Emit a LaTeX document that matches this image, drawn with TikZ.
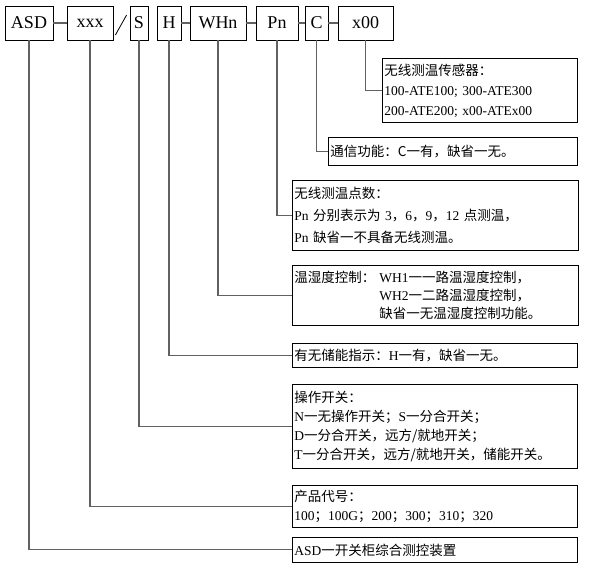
\documentclass[tikz,border=0pt]{standalone}
\usepackage{fontspec}
\setmainfont{Liberation Serif}
\newfontfamily\cjk{Noto Sans CJK SC}
\newcommand\zh[1]{{\cjk #1}}
\usetikzlibrary{calc}
\tikzset{
  code/.style={draw, line width=0.8pt, minimum height=34pt, inner sep=0pt,
    font=\fontsize{18}{18}\selectfont},
  note/.style={draw, line width=0.8pt, anchor=north west, inner xsep=2pt,
    inner ysep=0pt, align=left},
  link/.style={draw=black!62, line width=1.1pt},
}
\begin{document}
\begin{tikzpicture}[x=1pt,y=-1pt]
  \useasboundingbox (0,0) rectangle (610,568);
  % 型号各段
  \node[code, minimum width=48pt] (asd) at (29,23) {ASD};
  \node[code, minimum width=46pt] (xxx) at (90,23) {xxx};
  \node[code, minimum width=18pt] (s)   at (139,23) {S};
  \node[code, minimum width=24pt] (h)   at (169,23) {H};
  \node[code, minimum width=56pt] (whn) at (218,23) {WHn};
  \node[code, minimum width=42pt] (pn)  at (277,23) {Pn};
  \node[code, minimum width=23pt] (c)   at (316.5,23) {C};
  \node[code, minimum width=55pt] (x00) at (365.5,23) {x00};
  \foreach \a/\b in {asd/xxx,h/whn,whn/pn,pn/c,c/x00}
    \draw[link] (\a) -- (\b);
  \draw[line width=0.8pt] ($(xxx.east)+(2,12)$) -- ($(s.west)+(-3,-8)$);  % 斜杠
  % 说明框
  \node[note, text width=191pt, minimum height=64pt, font=\fontsize{13.5}{20}\selectfont] (dx00) at (382,58)
    {\zh{无线测温传感器：}\\100-ATE100; 300-ATE300\\200-ATE200; x00-ATEx00};
  \node[note, text width=245pt, minimum height=28pt, font=\fontsize{13.5}{18}\selectfont] (dc) at (328,137)
    {\zh{通信功能：C一有，缺省一无。}};
  \node[note, text width=282pt, minimum height=70pt, font=\fontsize{13.5}{22}\selectfont] (dpn) at (292,180)
    {\zh{无线测温点数：}\\Pn \zh{分别表示为} 3\zh{，}6\zh{，}9\zh{，}12 \zh{点测温，}\\Pn \zh{缺省一不具备无线测温。}};
  \node[note, text width=282pt, minimum height=60pt, font=\fontsize{13.5}{18}\selectfont] (dwhn) at (292,265)
    {\zh{温湿度控制：}\hspace{4pt}WH1\zh{一一路温湿度控制，}\\
     \hphantom{\zh{温湿度控制：}}\hspace{4pt}WH2\zh{一二路温湿度控制，}\\
     \hphantom{\zh{温湿度控制：}}\hspace{4pt}\zh{缺省一无温湿度控制功能。}};
  \node[note, text width=281pt, minimum height=24pt, font=\fontsize{13.5}{18}\selectfont] (dh) at (292,343)
    {\zh{有无储能指示：}H\zh{一有，缺省一无。}};
  \node[note, text width=281pt, minimum height=84pt, font=\fontsize{13.5}{19}\selectfont] (ds) at (292,384)
    {\zh{操作开关：}\\N\zh{一无操作开关；}S\zh{一分合开关；}\\D\zh{一分合开关，远方/就地开关；}\\T\zh{一分合开关，远方/就地开关，储能开关。}};
  \node[note, text width=281pt, minimum height=42pt, font=\fontsize{13.5}{19}\selectfont] (dxxx) at (292,485)
    {\zh{产品代号：}\\100\zh{；}100G\zh{；}200\zh{；}300\zh{；}310\zh{；}320};
  \node[note, text width=281pt, minimum height=25pt, font=\fontsize{13.5}{18}\selectfont] (dasd) at (292,537)
    {ASD\zh{一开关柜综合测控装置}};
  % 引线
  \foreach \p in {x00,c,pn,whn,h,s,xxx,asd}
    \draw[link] (\p.south) |- (d\p.west);
\end{tikzpicture}
\end{document}
